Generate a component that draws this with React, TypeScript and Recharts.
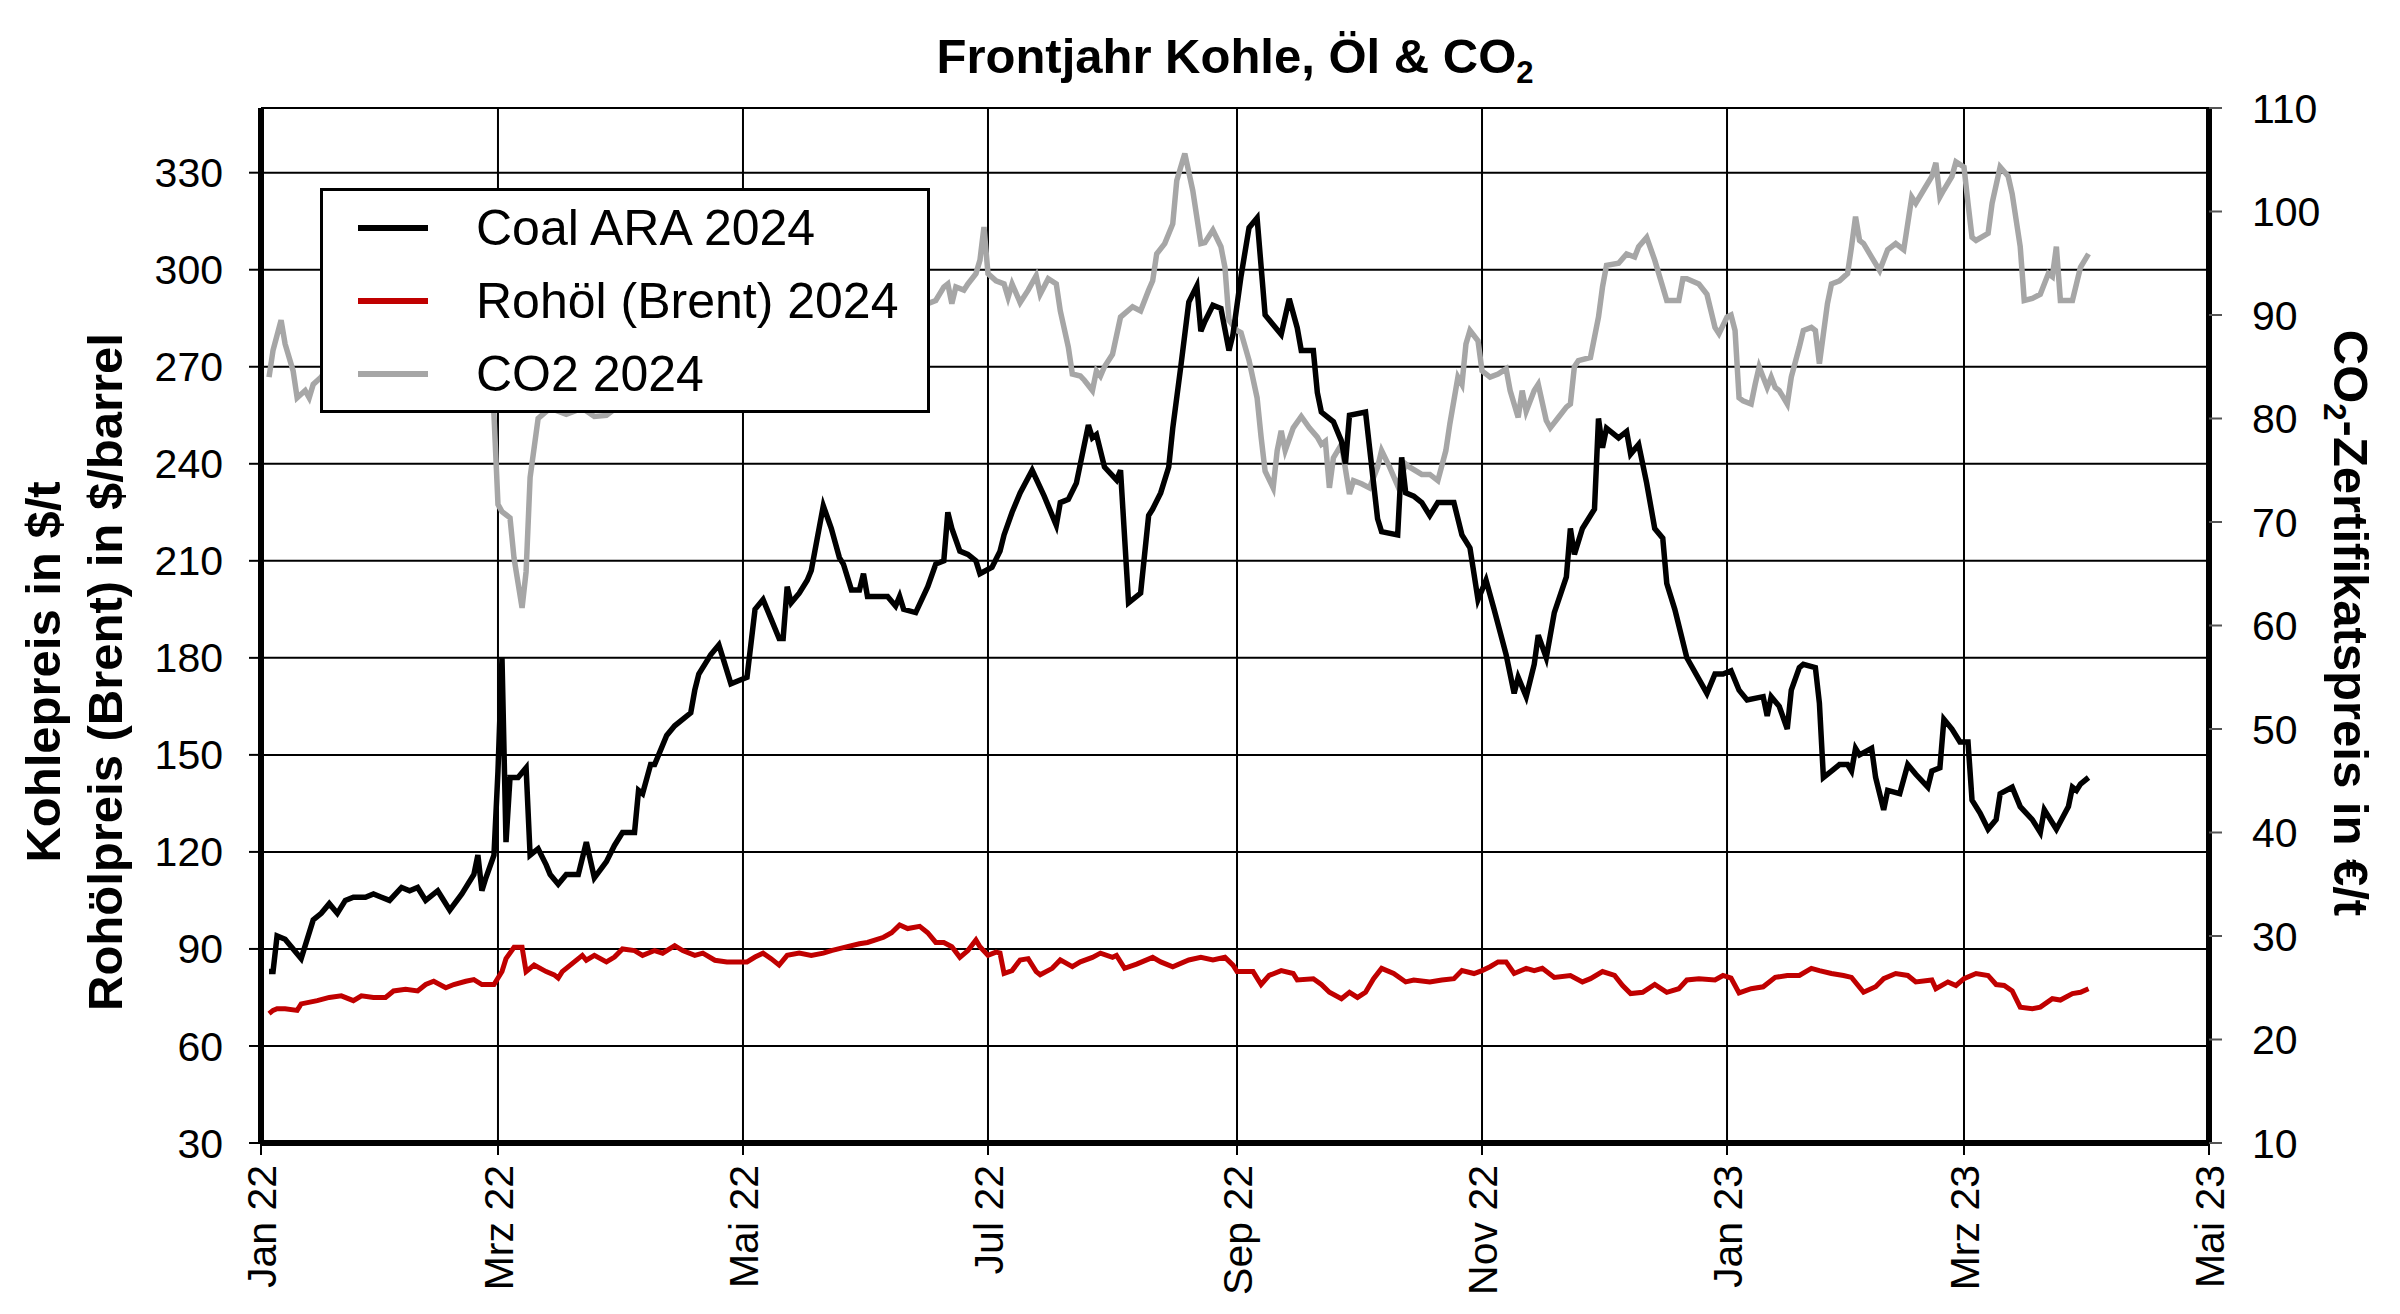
import { LineChart, Line, XAxis, YAxis, CartesianGrid, Legend } from 'recharts';

// x = days since 1 Jan 2022
const tickDays = [0, 59, 120, 181, 243, 304, 365, 424, 485];
const tickLabels = ['Jan 22', 'Mrz 22', 'Mai 22', 'Jul 22', 'Sep 22', 'Nov 22', 'Jan 23', 'Mrz 23', 'Mai 23'];
const leftTicks = [30, 60, 90, 120, 150, 180, 210, 240, 270, 300, 330];
const rightTicks = [10, 20, 30, 40, 50, 60, 70, 80, 90, 100, 110];

const seriesNames = ['Coal ARA 2024', 'Rohöl (Brent) 2024', 'CO2 2024'];

const coalPoints = [
  [2, 83], [3, 83], [4, 94], [6, 93], [8, 90], [10, 87], [13, 99], [15, 101], [17, 104], [19, 101],
  [21, 105], [23, 106], [26, 106], [28, 107], [30, 106], [32, 105], [35, 109], [37, 108], [39, 109],
  [41, 105], [44, 108], [45, 106], [47, 102], [50, 107], [53, 113], [54, 119], [55, 108], [56, 112],
  [58, 119], [59, 145], [60, 180], [61, 123], [62, 143], [64, 143], [66, 146], [67, 119], [69, 121],
  [71, 116], [72, 113], [74, 110], [76, 113], [79, 113], [81, 123], [83, 112], [86, 117], [88, 122],
  [90, 126], [93, 126], [94, 139], [95, 138], [97, 147], [98, 147], [101, 156], [103, 159], [107, 163],
  [108, 170], [109, 175], [112, 181], [114, 184], [115, 180], [117, 172], [119, 173], [121, 174],
  [123, 195], [125, 198], [127, 192], [129, 186], [130, 186], [131, 202], [132, 197], [134, 200],
  [136, 204], [137, 207], [140, 227], [142, 220], [144, 211], [145, 209], [147, 201], [149, 201],
  [150, 206], [151, 199], [154, 199], [156, 199], [158, 196], [159, 199], [160, 195], [163, 194],
  [166, 202], [168, 209], [170, 210], [171, 225], [172, 220], [174, 213], [176, 212], [178, 210],
  [179, 206], [182, 208], [184, 213], [185, 218], [187, 225], [189, 231], [192, 238], [195, 230],
  [198, 221], [199, 228], [201, 229], [203, 234], [206, 252], [207, 248], [208, 249], [210, 239],
  [213, 235], [214, 238], [216, 197], [219, 200], [221, 224], [222, 226], [224, 231], [226, 239],
  [227, 251], [229, 270], [231, 290], [233, 295], [234, 281], [235, 284], [237, 289], [239, 288],
  [241, 275], [242, 280], [244, 298], [246, 313], [248, 316], [250, 286], [252, 283], [254, 280],
  [256, 291], [258, 282], [259, 275], [262, 275], [263, 262], [264, 256], [267, 253], [269, 247],
  [270, 240], [271, 255], [275, 256], [276, 245], [278, 223], [279, 219], [283, 218], [284, 242],
  [285, 231], [287, 230], [289, 228], [291, 224], [293, 228], [297, 228], [299, 218], [301, 214],
  [303, 198], [305, 204], [307, 195], [310, 181], [312, 169], [313, 174], [315, 168], [317, 178],
  [318, 187], [320, 180], [322, 194], [325, 205], [326, 220], [327, 212], [329, 220], [332, 226],
  [333, 254], [334, 245], [335, 251], [338, 248], [340, 250], [341, 243], [343, 246], [345, 234],
  [347, 220], [349, 217], [350, 203], [352, 195], [355, 180], [360, 169], [362, 175], [364, 175],
  [366, 176], [368, 170], [370, 167], [374, 168], [375, 162], [376, 168], [378, 165], [380, 158],
  [381, 170], [383, 177], [384, 178], [387, 177], [388, 166], [389, 143], [391, 145], [393, 147],
  [395, 147], [396, 145], [397, 152], [398, 150], [401, 152], [402, 143], [404, 133], [405, 139],
  [408, 138], [410, 147], [412, 144], [415, 140], [416, 145], [418, 146], [419, 161], [421, 158],
  [423, 154], [425, 154], [426, 136], [428, 132], [430, 127], [432, 130], [433, 138], [436, 140],
  [438, 134], [441, 130], [443, 126], [444, 133], [447, 127], [450, 134], [451, 140], [452, 139],
  [453, 141], [455, 143],
];

const oilPoints = [
  [2, 70], [3, 71], [4, 71.5], [6, 71.5], [9, 71], [10, 73], [14, 74], [17, 75], [20, 75.5], [23, 74],
  [25, 75.5], [28, 75], [31, 75], [33, 77], [36, 77.5], [39, 77], [41, 79], [43, 80], [46, 78], [48, 79],
  [51, 80], [53, 80.5], [55, 79], [58, 79], [60, 83], [61, 87], [63, 90.5], [65, 90.5], [66, 83],
  [68, 85], [71, 83], [73, 82], [74, 81], [75, 83], [78, 86], [80, 88], [81, 86.5], [83, 88], [86, 86],
  [88, 87.5], [90, 90], [93, 89.5], [95, 88], [98, 89.5], [100, 88.7], [103, 91], [105, 89.5],
  [108, 88], [110, 88.7], [113, 86.5], [116, 86], [119, 86], [121, 86], [123, 87.5], [125, 88.7],
  [127, 87], [129, 85], [131, 88], [134, 88.7], [137, 88], [140, 88.7], [142, 89.5], [146, 90.7],
  [149, 91.6], [151, 92], [155, 93.6], [157, 95], [159, 97.4], [161, 96.3], [164, 97], [166, 95],
  [168, 92], [170, 92], [172, 90.7], [174, 87.4], [176, 89.5], [178, 92.8], [179, 90.7], [181, 88],
  [183, 89], [184, 88.7], [185, 82.4], [187, 83.3], [189, 86.6], [191, 87], [193, 83], [194, 82],
  [197, 84], [199, 86.6], [202, 84.5], [204, 86], [207, 87.4], [209, 88.7], [212, 87.4], [213, 88],
  [215, 84], [218, 85.3], [222, 87.4], [224, 86], [227, 84.5], [231, 86.6], [234, 87.4], [237, 86.6],
  [240, 87.4], [242, 85], [243, 83], [247, 83], [249, 79], [251, 81.8], [254, 83.3], [257, 82.4],
  [258, 80.4], [262, 80.8], [264, 79], [266, 76.6], [269, 74.6], [271, 76.6], [273, 75], [275, 76.6],
  [277, 80.8], [279, 84], [282, 82.4], [285, 79.8], [287, 80.4], [291, 79.8], [294, 80.4], [297, 80.8],
  [299, 83.3], [302, 82.4], [304, 83.3], [306, 84.5], [308, 86], [310, 86], [312, 82.4], [315, 84],
  [317, 83.3], [319, 84], [322, 81.2], [326, 81.8], [329, 79.8], [331, 80.8], [334, 83], [337, 81.8],
  [339, 78.7], [341, 76.2], [344, 76.6], [347, 79], [350, 76.6], [353, 77.7], [355, 80.4], [358, 80.8],
  [362, 80.4], [364, 81.8], [366, 81], [368, 76.4], [371, 77.7], [374, 78.3], [377, 81.2], [380, 81.8],
  [383, 81.8], [386, 84], [388, 83.3], [391, 82.4], [394, 81.8], [396, 81.2], [399, 76.6], [402, 78.3],
  [404, 80.8], [407, 82.4], [410, 81.8], [412, 79.8], [416, 80.4], [417, 77.7], [420, 79.8], [422, 78.7],
  [424, 80.8], [427, 82.4], [430, 81.8], [432, 79], [434, 78.7], [436, 77], [438, 72], [441, 71.5],
  [443, 72], [446, 74.6], [448, 74.2], [451, 76.2], [453, 76.6], [455, 77.7],
];

const co2Points = [
  [2, 84], [3, 86.6], [5, 89.5], [6, 87.2], [8, 84.6], [9, 82], [11, 82.7], [12, 82], [13, 83.3],
  [15, 84], [18, 86], [22, 88], [26, 86], [30, 90], [34, 93], [38, 96], [42, 97], [46, 96], [50, 94],
  [54, 91], [57, 86], [58, 80.4], [59, 71.7], [60, 71], [62, 70.4], [63, 66.5], [65, 61.7], [66, 65.2],
  [67, 74.3], [69, 80], [72, 81], [76, 80.4], [80, 81], [83, 80.2], [86, 80.3], [89, 81.2], [92, 83],
  [96, 85], [100, 86], [105, 85], [110, 84], [115, 83], [120, 82], [125, 83], [130, 85], [135, 86],
  [140, 88], [145, 87], [150, 89], [155, 90], [160, 91], [164, 90], [166, 91.1], [168, 91.4],
  [170, 92.7], [171, 93], [172, 91.1], [173, 92.7], [175, 92.4], [176, 93], [178, 94], [179, 95.3],
  [180, 98.5], [181, 94], [183, 93.3], [185, 93], [186, 91.7], [187, 93], [189, 91.2], [191, 92.4],
  [193, 93.8], [194, 92], [196, 93.5], [198, 93], [199, 90.4], [201, 86.9], [202, 84.3], [204, 84.1],
  [205, 83.7], [207, 82.7], [208, 84.6], [209, 84.1], [210, 85], [212, 86.2], [214, 89.8], [217, 90.8],
  [219, 90.4], [221, 92.4], [222, 93.3], [223, 95.9], [225, 96.9], [227, 98.8], [228, 103], [230, 105.6],
  [232, 102], [234, 96.9], [235, 97], [237, 98.2], [239, 96.6], [240, 94.6], [241, 89.5], [243, 88.5],
  [244, 88.3], [246, 85.6], [248, 82], [249, 78.2], [250, 74.9], [252, 73.3], [253, 76.9], [254, 78.8],
  [255, 76.9], [257, 79.1], [259, 80.2], [261, 79.1], [263, 78.2], [264, 77.5], [265, 77.8], [266, 73.3],
  [267, 76.2], [269, 77.5], [271, 72.7], [272, 74], [274, 73.7], [276, 73.3], [278, 75.3], [279, 76.9],
  [281, 75.3], [283, 73.5], [285, 75.6], [286, 75.3], [289, 74.6], [291, 74.6], [293, 74], [295, 76.9],
  [296, 79.5], [298, 84], [299, 83.3], [300, 87.2], [301, 88.5], [303, 87.5], [304, 84.6], [306, 84],
  [308, 84.3], [310, 84.8], [311, 82.7], [313, 80.1], [314, 82.7], [315, 80.7], [317, 82.7], [318, 83.3],
  [320, 79.8], [321, 79.1], [323, 80.1], [325, 81.1], [326, 81.4], [327, 85], [328, 85.6], [331, 85.9],
  [333, 89.8], [334, 92.7], [335, 94.8], [338, 95], [340, 95.9], [342, 95.6], [343, 96.6], [345, 97.5],
  [347, 95.3], [349, 92.7], [350, 91.4], [353, 91.4], [354, 93.5], [355, 93.5], [358, 93], [360, 92],
  [362, 88.8], [363, 88.2], [365, 89.8], [366, 90], [367, 88.5], [368, 82], [369, 81.7], [371, 81.4],
  [372, 83.3], [373, 85], [375, 83], [376, 84], [377, 83], [378, 82.7], [380, 81.4], [381, 84],
  [383, 86.9], [384, 88.5], [386, 88.8], [387, 88.5], [388, 85.3], [390, 91.1], [391, 93], [393, 93.3],
  [395, 94], [396, 96.6], [397, 99.5], [398, 97.2], [399, 96.9], [401, 95.6], [403, 94.3], [405, 96.3],
  [407, 96.9], [409, 96.3], [411, 101.4], [412, 100.8], [414, 102.1], [416, 103.4], [417, 104.7],
  [418, 101.4], [419, 102.1], [421, 103.4], [422, 104.8], [424, 104.3], [425, 100.8], [426, 97.5],
  [427, 97.2], [430, 97.9], [431, 100.8], [433, 104.3], [435, 103.4], [436, 101.7], [438, 96.6],
  [439, 91.4], [441, 91.6], [443, 92], [445, 94], [446, 93.7], [447, 96.6], [448, 91.4], [450, 91.4],
  [451, 91.4], [452, 93], [453, 94.6], [455, 95.9],
];

const toRows = (points) => points.map(([day, value]) => ({ day, value }));
const coalData = toRows(coalPoints);
const oilData = toRows(oilPoints);
const co2Data = toRows(co2Points);

const FONT = '"Liberation Sans", Arial, Helvetica, sans-serif';

const DateTick = ({ x, y, payload }) => {
  const label = tickLabels[tickDays.indexOf(payload.value)];
  return (
    <g transform={`translate(${x},${y})`}>
      <text transform="rotate(-90)" textAnchor="end" dy="0.355em" fontSize={41} fill="#000" fontFamily={FONT}>
        {label}
      </text>
    </g>
  );
};

const LegendBox = ({ payload }) => {
  const items = [...(payload || [])].sort(
    (a, b) => seriesNames.indexOf(a.value) - seriesNames.indexOf(b.value)
  );
  return (
    <div
      style={{
        boxSizing: 'border-box',
        width: 610,
        height: 225,
        border: '3px solid #000',
        background: '#fff',
        fontFamily: FONT,
      }}
    >
      {items.map((item) => (
        <div key={item.value} style={{ height: 73, display: 'flex', alignItems: 'center' }}>
          <div style={{ marginLeft: 35, width: 70, height: 6, background: item.color }} />
          <span style={{ marginLeft: 48, fontSize: 50, color: '#000' }}>{item.value}</span>
        </div>
      ))}
    </div>
  );
};

export default function App() {
  return (
    <div style={{ position: 'absolute', left: 0, top: 0, width: 2400, height: 1314, background: '#fff', fontFamily: FONT }}>
      <LineChart width={2400} height={1314} margin={{ top: 108, right: 0, bottom: 0, left: 0 }}>
        <CartesianGrid yAxisId="left" stroke="#000" strokeWidth={2} />
        <XAxis
          dataKey="day"
          type="number"
          domain={[0, 485]}
          ticks={tickDays}
          interval={0}
          height={171}
          tickSize={12}
          tickMargin={10}
          tick={<DateTick />}
          axisLine={{ stroke: '#000', strokeWidth: 6 }}
          tickLine={{ stroke: '#000', strokeWidth: 2 }}
        />
        <XAxis
          xAxisId="top"
          orientation="top"
          type="number"
          domain={[0, 485]}
          height={0}
          tick={false}
          tickLine={false}
          axisLine={{ stroke: '#000', strokeWidth: 6 }}
        />
        <YAxis
          yAxisId="left"
          domain={[30, 350]}
          ticks={leftTicks}
          interval={0}
          width={261}
          tickSize={12}
          tickMargin={26}
          tick={{ fill: '#000', fontSize: 41, fontFamily: FONT }}
          axisLine={{ stroke: '#000', strokeWidth: 6 }}
          tickLine={{ stroke: '#000', strokeWidth: 2 }}
        />
        <YAxis
          yAxisId="right"
          orientation="right"
          domain={[10, 110]}
          ticks={rightTicks}
          interval={0}
          width={191}
          tickSize={13}
          tickMargin={30}
          tick={{ fill: '#000', fontSize: 41, fontFamily: FONT, textAnchor: 'start' }}
          axisLine={{ stroke: '#000', strokeWidth: 6 }}
          tickLine={{ stroke: '#555', strokeWidth: 2 }}
        />
        <Legend
          layout="vertical"
          align="center"
          verticalAlign="middle"
          content={<LegendBox />}
          wrapperStyle={{ left: 320, top: 188, width: 610, height: 225 }}
        />
        <Line
          data={co2Data}
          yAxisId="right"
          dataKey="value"
          name={seriesNames[2]}
          type="linear"
          stroke="#a6a6a6"
          strokeWidth={5.5}
          dot={false}
          isAnimationActive={false}
        />
        <Line
          data={oilData}
          yAxisId="left"
          dataKey="value"
          name={seriesNames[1]}
          type="linear"
          stroke="#c00000"
          strokeWidth={5}
          dot={false}
          isAnimationActive={false}
        />
        <Line
          data={coalData}
          yAxisId="left"
          dataKey="value"
          name={seriesNames[0]}
          type="linear"
          stroke="#000"
          strokeWidth={5.5}
          dot={false}
          isAnimationActive={false}
        />
      </LineChart>
      <svg
        width={2400}
        height={1314}
        style={{ position: 'absolute', left: 0, top: 0, pointerEvents: 'none' }}
        fontFamily={FONT}
        fontWeight="bold"
      >
        <text x={1235} y={73} textAnchor="middle" fontSize={49}>
          Frontjahr Kohle, Öl &amp; CO<tspan fontSize={31} dy={10}>2</tspan>
        </text>
        <text transform="translate(60,672) rotate(-90)" textAnchor="middle" fontSize={49}>
          Kohlepreis in $/t
        </text>
        <text transform="translate(122,672) rotate(-90)" textAnchor="middle" fontSize={49}>
          Rohölpreis (Brent) in $/barrel
        </text>
        <text transform="translate(2334,623) rotate(90)" textAnchor="middle" fontSize={49}>
          CO<tspan fontSize={31} dy={10}>2</tspan>
          <tspan fontSize={49} dy={-10}>-Zertifikatspreis in €/t</tspan>
        </text>
      </svg>
    </div>
  );
}
